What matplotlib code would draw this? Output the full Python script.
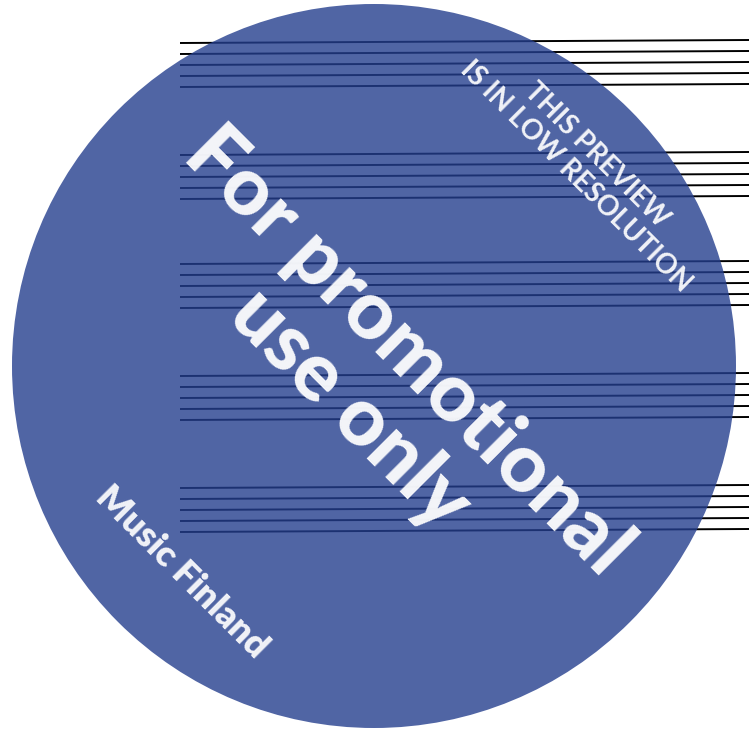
import matplotlib
matplotlib.use('Agg')
from matplotlib import pyplot as plt
from matplotlib.patches import Circle

# Score preview page: staves behind a blue "promo" stamp
staff_tops = [43, 155, 264, 376, 488]   # y of first line of each staff (px)
line_gap = 11                           # space between staff lines
staff_x = [180, 749]                    # staves run from here to the page edge
staff_tilt = 3                          # staves rise a little to the right

stamp_center = (374, 366)
stamp_radius = 362

main_text = 'For promotional\nuse only'
note_text = 'THIS PREVIEW\nIS IN LOW RESOLUTION'
brand_text = 'Music Finland'

fig = plt.figure(figsize=(7.49, 7.42), dpi=100)
ax = fig.add_axes([0, 0, 1, 1])
ax.set_xlim(0, 749)
ax.set_ylim(742, 0)
ax.axis('off')

# staff lines
for top in staff_tops:
    for i in range(5):
        y = top + i * line_gap
        ax.plot(staff_x, [y, y - staff_tilt], c='black', lw=1.4,
                solid_capstyle='butt', zorder=1)

# the round stamp, a bit see-through so the lines show
stamp = Circle(stamp_center, stamp_radius, facecolor='#243e8e',
               edgecolor='none', alpha=0.8, zorder=2)
ax.add_patch(stamp)

# texts on the stamp, all at 45 degrees
ax.text(379, 380, main_text, rotation=-45, rotation_mode='anchor',
        ha='center', va='center', multialignment='center',
        fontsize=59, fontweight='black', family='Lato', color='white',
        alpha=0.94, linespacing=1.1, zorder=3)
ax.text(586, 166, note_text, rotation=-45, rotation_mode='anchor',
        ha='center', va='center', multialignment='center',
        fontsize=20, fontweight='bold', family='Lato', color='white',
        alpha=0.92, linespacing=1.15, zorder=3)
ax.text(182, 572, brand_text, rotation=-45, rotation_mode='anchor',
        ha='center', va='center', fontsize=26, fontweight='heavy',
        family='Lato', color='white', alpha=0.92, zorder=3)

fig.savefig('out.png', dpi=100)
